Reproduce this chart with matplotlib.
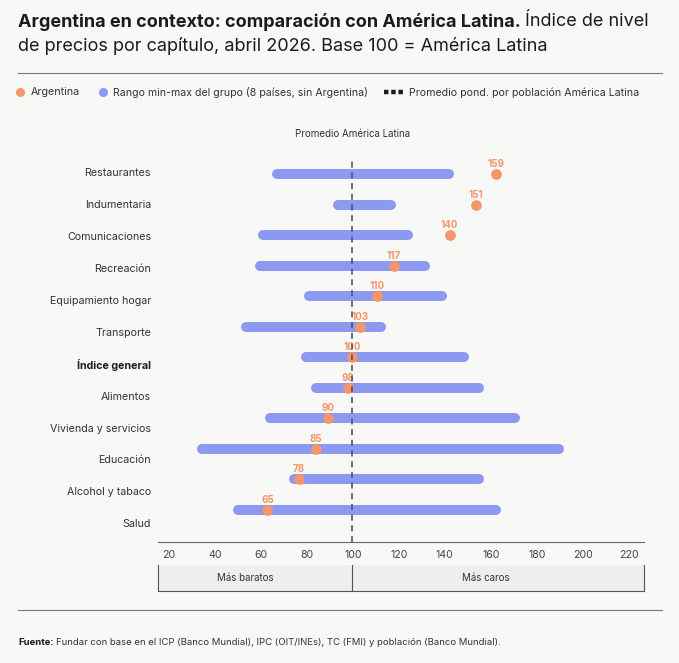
import matplotlib

matplotlib.use("Agg")
import matplotlib.pyplot as plt
from matplotlib.lines import Line2D

plt.rcParams["font.family"] = ["Inter", "DejaVu Sans"]
plt.rcParams["lines.scale_dashes"] = False

# data (index, America Latina = 100)
categories = ["Restaurantes", "Indumentaria", "Comunicaciones", "Recreación",
              "Equipamiento hogar", "Transporte", "Índice general", "Alimentos",
              "Vivienda y servicios", "Educación", "Alcohol y tabaco", "Salud"]
argentina = [159, 151, 140, 117, 110, 103, 100, 98, 90, 85, 78, 65]
range_min = [67, 92, 61, 60, 80, 54, 79, 83, 64, 36, 74, 51]
range_max = [142, 118, 125, 132, 139, 114, 148, 154, 169, 187, 154, 161]
ticks = [20, 40, 60, 80, 100, 120, 140, 160, 180, 200, 220]
bold_row = "Índice general"

ORANGE = "#f5966a"
BLUE = "#8c99f0"
BG = "#f8f8f6"
DARK = "#1c1c1c"
GREY = "#555555"

W, H = 679, 663
fig = plt.figure(figsize=(W / 100, H / 100), dpi=100, facecolor=BG)


def fx(px):
    return px / W


def fy(py):
    return 1 - py / H


# plot region in pixels
left, right, top, bottom = 158, 644, 158, 541.7
rect = [fx(left), fy(bottom), fx(right - left), (bottom - top) / H]

# axes carrying the category labels and tick labels
lab = fig.add_axes(rect, zorder=0)
lab.patch.set_visible(False)
lab.set_ylim(11.577, -0.448)
lab.set_yticks(range(len(categories)), labels=categories)
lab.set_xlim(15.4, 226.5)
lab.set_xticks(ticks, labels=[str(t) for t in ticks])
lab.tick_params(axis="y", length=0, pad=5, labelsize=7.7, labelcolor="#333333")
lab.tick_params(axis="x", length=0, pad=6, labelsize=7.6, labelcolor="#444444")
for t in lab.get_yticklabels():
    if t.get_text() == bold_row:
        t.set_fontweight("bold")
        t.set_color(DARK)
for s in lab.spines.values():
    s.set_visible(False)

# data axes
ax = fig.add_axes(rect, zorder=1)
ax.patch.set_visible(False)
ax.set_xlim(20, 220)
ax.set_ylim(12.05, -0.535)
ax.set_xticks([])
ax.set_yticks([])
for k in ("top", "left", "right"):
    ax.spines[k].set_visible(False)
ax.spines["bottom"].set_color("#666666")
ax.spines["bottom"].set_linewidth(0.8)

bar_px = 10
px_per_unit = (right - left) / 200
inset = (bar_px / 2) / px_per_unit
for i, (lo, hi) in enumerate(zip(range_min, range_max)):
    ax.plot([lo + inset, hi - inset], [i, i], color=BLUE, lw=bar_px * 0.72,
            solid_capstyle="round", zorder=2)

ys = list(range(len(categories)))
ax.plot(argentina, ys, "o", color=ORANGE, markersize=7.7, markeredgewidth=0, zorder=3)
for i, v in enumerate(argentina):
    ax.annotate(f"{v}", (v, i), xytext=(0, 7.3), textcoords="offset points",
                ha="center", va="center", fontsize=7, fontweight="bold",
                color=ORANGE, zorder=3)

ax.axvline(100, color=GREY, lw=1.2, dashes=(4.3, 3.4), zorder=4)
fig.text(fx(352.5), fy(134), "Promedio América Latina", ha="center", va="center",
         fontsize=7, color="#333333")

# band under the axis
band = fig.add_axes([fx(left), fy(590.7), fx(right - left), 25.7 / H])
band.set_facecolor("#eeeeec")
band.set_xlim(20, 220)
band.set_ylim(0, 1)
band.set_xticks([])
band.set_yticks([])
band.spines["top"].set_visible(False)
for k in ("left", "right", "bottom"):
    band.spines[k].set_color(GREY)
    band.spines[k].set_linewidth(0.8)
band.axvline(100, color=GREY, lw=0.8)
band.text(55.8, 0.5, "Más baratos", ha="center", va="center", fontsize=7, color="#333333")
band.text(155, 0.5, "Más caros", ha="center", va="center", fontsize=7, color="#333333")

renderer = fig.canvas.get_renderer()

# title
t1 = fig.text(fx(18), fy(22), "Argentina en contexto: comparación con América Latina.",
              ha="left", va="center", fontsize=13, fontweight="bold", color=DARK)
bb = t1.get_window_extent(renderer)
fig.text((bb.x1 + 4.5) / W, fy(22), "Índice de nivel", ha="left", va="center",
         fontsize=13, color=DARK)
fig.text(fx(18), fy(46), "de precios por capítulo, abril 2026. Base 100 = América Latina",
         ha="left", va="center", fontsize=13, color=DARK)

fig.add_artist(Line2D([fx(18), fx(662)], [fy(72.5), fy(72.5)], color="#777777", lw=0.8))

# legend
ly = fy(92.3)
fig.add_artist(Line2D([fx(20.3)], [ly], marker="o", color=ORANGE, markersize=6.5,
                      markeredgewidth=0))
fig.text(fx(31.2), ly, "Argentina", ha="left", va="center", fontsize=7.7, color="#333333")
fig.add_artist(Line2D([fx(103)], [ly], marker="o", color=BLUE, markersize=6.5,
                      markeredgewidth=0))
fig.text(fx(113.4), ly, "Rango min-max del grupo (8 países, sin Argentina)",
         ha="left", va="center", fontsize=7.6, color="#333333")
fig.add_artist(Line2D([fx(383.5), fx(402.5)], [ly, ly], color=DARK, lw=3.2,
                      dashes=(3.2, 2.0)))
fig.text(fx(409), ly, "Promedio pond. por población América Latina",
         ha="left", va="center", fontsize=7.65, color="#333333")

fig.add_artist(Line2D([fx(18), fx(662)], [fy(610), fy(610)], color="#777777", lw=0.8))

# source
s1 = fig.text(fx(18), fy(642.5), "Fuente:", ha="left", va="center", fontsize=6.85,
              fontweight="bold", color=DARK)
bb = s1.get_window_extent(renderer)
fig.text((bb.x1 + 2.5) / W, fy(642.5),
         "Fundar con base en el ICP (Banco Mundial), IPC (OIT/INEs), TC (FMI) y población (Banco Mundial).",
         ha="left", va="center", fontsize=6.85, color="#333333")

fig.savefig("out.png", dpi=100, facecolor=BG)
